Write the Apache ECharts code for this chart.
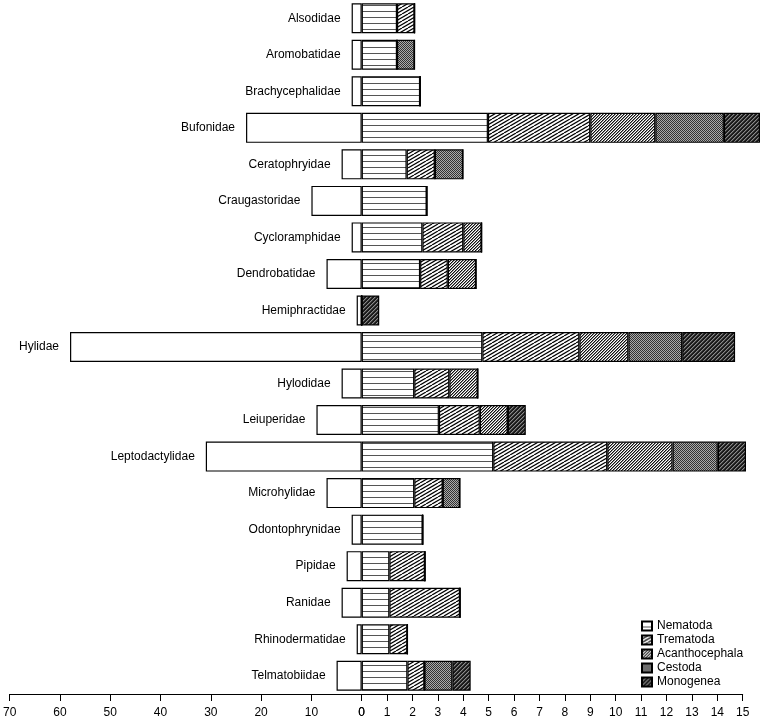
<!DOCTYPE html>
<html>
<head>
<meta charset="utf-8">
<script src="https://cdn.jsdelivr.net/npm/echarts@6/dist/echarts.min.js"></script>
<style>
html, body { margin: 0; padding: 0; background: #fff; }
#chart { width: 763px; height: 722px; }
</style>
</head>
<body>
<div id="chart"></div>
<script>
var families = ['Alsodidae', 'Aromobatidae', 'Brachycephalidae', 'Bufonidae', 'Ceratophryidae',
    'Craugastoridae', 'Cycloramphidae', 'Dendrobatidae', 'Hemiphractidae', 'Hylidae', 'Hylodidae',
    'Leiuperidae', 'Leptodactylidae', 'Microhylidae', 'Odontophrynidae', 'Pipidae', 'Ranidae',
    'Rhinodermatidae', 'Telmatobiidae'];

// left side (white bars), 0-70 scale
var hostSpecies = [2, 2, 2, 23, 4, 10, 2, 7, 1, 58, 4, 9, 31, 7, 2, 3, 4, 1, 5];

// right side, stacked, 0-15 scale
var nematoda       = [1.39, 1.39, 2.30, 4.97, 1.77, 2.56, 2.39, 2.30, 0, 4.75, 2.07, 3.04, 5.18, 2.07, 2.40, 1.09, 1.09, 1.09, 1.80];
var trematoda      = [0.69, 0, 0, 4.03, 1.11, 0, 1.61, 1.09, 0, 3.82, 1.38, 1.61, 4.49, 1.12, 0, 1.40, 2.78, 0.71, 0.67];
var acanthocephala = [0, 0, 0, 2.56, 0, 0, 0.72, 1.11, 0, 1.93, 1.12, 1.10, 2.57, 0, 0, 0, 0, 0, 0];
var cestoda        = [0, 0.69, 0, 2.70, 1.11, 0, 0, 0, 0, 2.12, 0, 0, 1.78, 0.68, 0, 0, 0, 0, 1.10];
var monogenea      = [0, 0, 0, 1.42, 0, 0, 0, 0, 0.69, 2.08, 0, 0.71, 1.11, 0, 0, 0, 0, 0, 0.72];

var leftTicks = { min: 0, max: 70, interval: 10 };
var rightTicks = { min: 0, max: 15, interval: 1 };

function tile(w, h, draw) {
    var c = document.createElement('canvas');
    c.width = w;
    c.height = h;
    var ctx = c.getContext('2d');
    ctx.fillStyle = '#fff';
    ctx.fillRect(0, 0, w, h);
    draw(ctx);
    return { image: c, repeat: 'repeat' };
}

// fill pixels of a tile by rule on (x + y) for diagonal stripes
function diag(w, h, colours) {
    return tile(w, h, function (ctx) {
        for (var x = 0; x < w; x++) {
            for (var y = 0; y < h; y++) {
                var col = colours((x + y) % w, x, y);
                if (col) {
                    ctx.fillStyle = col;
                    ctx.fillRect(x, y, 1, 1);
                }
            }
        }
    });
}

var patHoriz = tile(4, 6, function (ctx) {
    ctx.fillStyle = '#555';
    ctx.fillRect(0, 5, 4, 1);
});

var patWide = tile(12, 7, function (ctx) {
    ctx.strokeStyle = '#000';
    ctx.lineWidth = 1.2;
    for (var dx = -12; dx <= 12; dx += 6) {
        ctx.beginPath();
        ctx.moveTo(dx, 7);
        ctx.lineTo(dx + 12, 0);
        ctx.stroke();
    }
});

var patMedium = diag(3, 3, function (k) {
    return k === 2 ? '#111' : (k === 0 ? '#888' : null);
});

var patDense = tile(2, 2, function (ctx) {
    ctx.fillStyle = '#333';
    ctx.fillRect(0, 0, 1, 1);
    ctx.fillRect(1, 1, 1, 1);
    ctx.fillStyle = '#aaa';
    ctx.fillRect(1, 0, 1, 1);
    ctx.fillRect(0, 1, 1, 1);
});

var patDark = diag(4, 4, function (k) {
    return k === 3 ? '#8a8a8a' : (k === 0 ? '#444' : '#1a1a1a');
});

var chart = echarts.init(document.getElementById('chart'), null, { renderer: 'canvas' });

var axisFont = { fontFamily: 'Liberation Sans, Arial, sans-serif', fontSize: 12, color: '#000' };

function stackBar(name, data, pattern) {
    return {
        name: name,
        type: 'bar',
        stack: 'parasites',
        xAxisIndex: 1,
        yAxisIndex: 1,
        barWidth: 30,
        clip: false,
        data: data,
        itemStyle: { color: pattern, borderColor: '#000', borderWidth: 1.2 },
        emphasis: { disabled: true }
    };
}

var option = {
    animation: false,
    backgroundColor: '#fff',
    grid: [
        { left: 8, right: 401.3, top: 0, bottom: 28 },
        { left: 361.7, right: 20.3, top: 0, bottom: 28 }
    ],
    xAxis: [
        {
            gridIndex: 0, type: 'value', inverse: true,
            min: leftTicks.min, max: leftTicks.max, interval: leftTicks.interval,
            splitLine: { show: false },
            axisLine: { show: true, lineStyle: { color: '#000', width: 1 } },
            axisTick: { show: true, length: 7, lineStyle: { color: '#000' } },
            axisLabel: Object.assign({ margin: 13 }, axisFont)
        },
        {
            gridIndex: 1, type: 'value',
            min: rightTicks.min, max: rightTicks.max, interval: rightTicks.interval,
            splitLine: { show: false },
            axisLine: { show: true, lineStyle: { color: '#000', width: 1 } },
            axisTick: { show: true, length: 7, lineStyle: { color: '#000' } },
            axisLabel: Object.assign({ margin: 13 }, axisFont)
        }
    ],
    yAxis: [
        { gridIndex: 0, type: 'category', inverse: true, data: families, show: false },
        { gridIndex: 1, type: 'category', inverse: true, data: families, show: false }
    ],
    legend: {
        orient: 'vertical',
        left: 636,
        top: 615,
        itemWidth: 10,
        itemHeight: 9,
        itemGap: 2,
        icon: 'rect',
        textStyle: { fontFamily: 'Liberation Sans, Arial, sans-serif', fontSize: 12, color: '#000' },
        data: ['Nematoda', 'Trematoda', 'Acanthocephala', 'Cestoda', 'Monogenea']
    },
    series: [
        {
            name: 'Hosts',
            type: 'bar',
            xAxisIndex: 0,
            yAxisIndex: 0,
            barWidth: 30,
            data: hostSpecies,
            itemStyle: { color: '#fff', borderColor: '#000', borderWidth: 1.2 },
            emphasis: { disabled: true },
            label: {
                show: true,
                position: 'left',
                distance: 11,
                formatter: function (p) { return p.name; },
                fontFamily: 'Liberation Sans, Arial, sans-serif',
                fontSize: 12,
                color: '#000'
            }
        },
        stackBar('Nematoda', nematoda, patHoriz),
        stackBar('Trematoda', trematoda, patWide),
        stackBar('Acanthocephala', acanthocephala, patMedium),
        stackBar('Cestoda', cestoda, patDense),
        stackBar('Monogenea', monogenea, patDark)
    ]
};

chart.setOption(option);
</script>
</body>
</html>
